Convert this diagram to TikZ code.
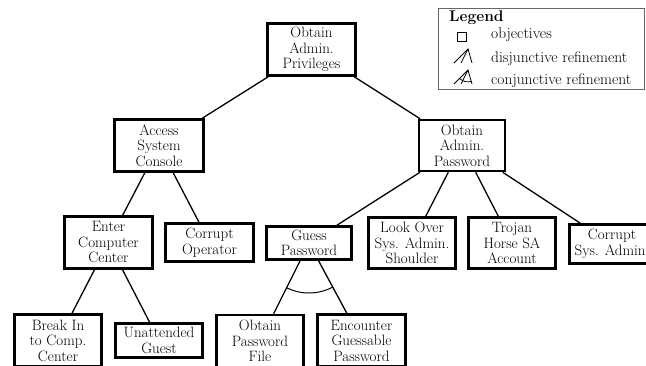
\documentclass[tikz,border=0pt]{standalone}
\usetikzlibrary{calc}
\begin{document}
\begin{tikzpicture}[x=1pt,y=1pt,
  txt/.style={font=\fontsize{15}{15.5}\selectfont},
  ltxt/.style={font=\fontsize{15.5}{17}\selectfont, anchor=base west, inner sep=0pt},
  box/.style={txt, draw, line width=2.6pt, align=center, inner sep=0pt},
  conn/.style={line width=1.3pt},
  icon/.style={line width=0.8pt}]
\useasboundingbox (0,0) rectangle (646,-365);
\clip (0,0) rectangle (646,-365);
\fill[white] (0,0) rectangle (646,-365);

% nodes
\node[box, minimum width=88, minimum height=52] (root) at (311.5,-49.5) {Obtain\\Admin.\\Privileges};
\node[box, minimum width=89, minimum height=52] (asc) at (159,-145.5) {Access\\System\\Console};
\node[box, minimum width=86, minimum height=51] (oap) at (462,-145.5) {Obtain\\Admin.\\Password};
\node[box, minimum width=88, minimum height=52] (ecc) at (108.5,-242.5) {Enter\\Computer\\Center};
\node[box, minimum width=88, minimum height=38] (co) at (209.5,-242.5) {Corrupt\\Operator};
\node[box, minimum width=85, minimum height=33] (gp) at (309,-243) {Guess\\Password};
\node[box, minimum width=87, minimum height=51] (lo) at (412,-243) {Look Over\\Sys. Admin.\\Shoulder};
\node[box, minimum width=87, minimum height=51] (th) at (512,-243) {Trojan\\Horse SA\\Account};
\node[box, minimum width=85, minimum height=39] (csa) at (612,-244) {Corrupt\\Sys. Admin.};
\node[box, minimum width=87, minimum height=52] (bi) at (58,-340.5) {Break In\\to Comp.\\Center};
\node[box, minimum width=87, minimum height=34] (ug) at (159,-340.5) {Unattended\\Guest};
\node[box, minimum width=87, minimum height=52] (opf) at (260,-341) {Obtain\\Password\\File};
\node[box, minimum width=88, minimum height=52] (egp) at (361.5,-340.5) {Encounter\\Guessable\\Password};

% connectors
\draw[conn] (root) -- (asc);
\draw[conn] (root) -- (oap);
\draw[conn] (asc) -- (ecc);
\draw[conn] (asc) -- (co);
\draw[conn] (ecc) -- (bi);
\draw[conn] (ecc) -- (ug);
\draw[conn] (oap) -- (gp);
\draw[conn] (oap) -- (lo);
\draw[conn] (oap) -- (th);
\draw[conn] (oap) -- (csa);
\draw[conn] (gp) -- (opf);
\draw[conn] (gp) -- (egp);
\draw[line width=1pt] ($(gp.center)!50pt!(opf.center)$) arc[start angle=-116.6, end angle=-61.7, radius=50pt];

% legend
\node[draw=black!60, line width=0.8pt, minimum width=206, minimum height=81, anchor=north west, inner sep=0pt] (leg) at (438,-8) {};
\node[ltxt, font=\fontsize{15.5}{17}\selectfont\bfseries] (legt) at (449,-21) {Legend};
\node[draw, line width=1.6pt, minimum size=9pt, inner sep=0pt] (sq) at (462,-37) {};
\node[ltxt] (lobj) at (491,-38.5) {objectives};
\coordinate (dj) at (468,-49);
\coordinate (dj1) at (454,-63);
\coordinate (dj2) at (461,-63);
\coordinate (dj3) at (472,-63);
\draw[icon] (dj1) -- (dj) -- (dj3);
\draw[icon] (dj2) -- (dj);
\node[ltxt] (ldis) at (491,-62) {disjunctive refinement};
\coordinate (cj) at (468,-70);
\coordinate (cj1) at (454,-84);
\coordinate (cj2) at (461,-84);
\coordinate (cj3) at (472,-84);
\draw[icon] (cj1) -- (cj) -- (cj3);
\draw[icon] (cj2) -- (cj);
\draw[icon] ($(cj)!0.6!(cj1)$) arc[start angle=-135, end angle=-74, radius=11.9pt];
\node[ltxt] (lcon) at (491,-84) {conjunctive refinement};
\end{tikzpicture}
\end{document}
